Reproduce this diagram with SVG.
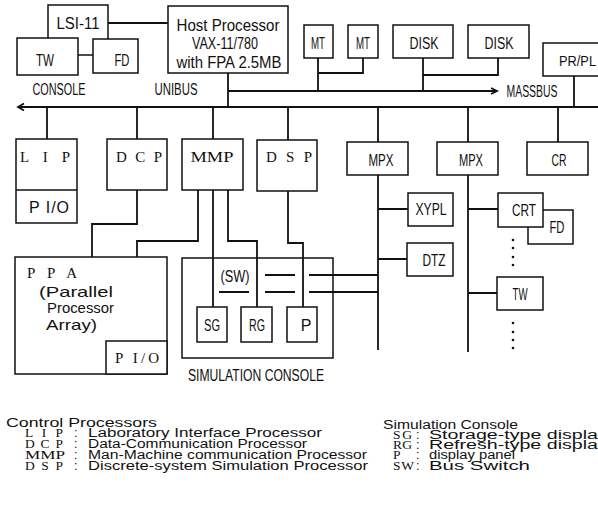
<svg xmlns="http://www.w3.org/2000/svg" width="598" height="505" viewBox="0 0 598 505">
<style>
.b{fill:#fff;stroke:#111;stroke-width:1.5}
.c{fill:none;stroke:#111;stroke-width:1.8;stroke-linejoin:miter}
.bus{fill:none;stroke:#111;stroke-width:2.2}
.t{font-family:"Liberation Sans",Arial,sans-serif;font-size:16px;fill:#111;text-anchor:middle}
.s{font-family:"Liberation Serif","Times New Roman",serif;font-size:15px;fill:#111;text-anchor:middle}
.l{font-family:"Liberation Sans",Arial,sans-serif;font-size:12.5px;fill:#111}
.lb{font-family:"Liberation Sans",Arial,sans-serif;font-size:15px;fill:#111}
.ls{font-family:"Liberation Serif","Times New Roman",serif;font-size:13.5px;fill:#111}
.dot{fill:#111}
</style>
<rect width="598" height="505" fill="#fff"/>
<g id="connectors">
  <path class="c" d="M108 23H168"/>
  <path class="bus" d="M18 107H598"/>
  <path class="c" d="M24 103.5L18 107L24 110.5"/>
  <path class="c" d="M228 73V107"/>
  <path class="c" d="M228 91H497"/>
  <path class="c" d="M491 88L497 91L491 94"/>
  <path class="c" d="M318 58V91M318 73H363V58"/>
  <path class="c" d="M423 58V91M423 75H498V58"/>
  <path class="c" d="M574 76V107"/>
  <path class="c" d="M47 107V139M137 107V139M213 107V139M288 107V140M378 107V142M468 107V142M558 107V142"/>
  <path class="c" d="M137 190V224H92V257"/>
  <path class="c" d="M198 190V241H137V257"/>
  <path class="c" d="M213 190V307"/>
  <path class="c" d="M228 190V241H257V307"/>
  <path class="c" d="M288 190V243H303V307"/>
  <path class="c" d="M378 175V350"/>
  <path class="c" d="M378 209H408M378 259H407"/>
  <path class="c" d="M468 175V352"/>
  <path class="c" d="M468 209H498M468 293H497"/>
  <path class="c" d="M219 292H249M265 275H295M265 292H295M309 275H378M309 292H378"/>
</g>
<g id="lsi11"><rect class="b" x="48" y="5" width="60" height="50"/><text class="t" x="78" y="29" textLength="43" lengthAdjust="spacingAndGlyphs">LSI-11</text></g>
<g id="tw1"><rect class="b" x="17" y="38" width="61" height="37"/><text class="t" x="45" y="66" textLength="18" lengthAdjust="spacingAndGlyphs">TW</text></g>
<g id="fd1"><rect class="b" x="93" y="39" width="45" height="34"/><text class="t" x="122" y="66" textLength="15" lengthAdjust="spacingAndGlyphs">FD</text></g>
<g id="host"><rect class="b" x="168" y="6" width="120" height="67"/>
  <text class="t" x="228" y="31" textLength="103" lengthAdjust="spacingAndGlyphs">Host Processor</text>
  <text class="t" x="225" y="49" textLength="66" lengthAdjust="spacingAndGlyphs">VAX-11/780</text>
  <text class="t" x="229" y="68" textLength="105" lengthAdjust="spacingAndGlyphs">with FPA 2.5MB</text></g>
<g id="labels">
  <text class="t" x="59" y="95" textLength="53" lengthAdjust="spacingAndGlyphs">CONSOLE</text>
  <text class="t" x="176" y="95" textLength="43" lengthAdjust="spacingAndGlyphs">UNIBUS</text>
  <text class="t" x="532" y="97" textLength="51" lengthAdjust="spacingAndGlyphs">MASSBUS</text>
  <text class="t" x="256" y="381" textLength="136" lengthAdjust="spacingAndGlyphs">SIMULATION CONSOLE</text>
</g>
<g id="mt1"><rect class="b" x="304" y="25" width="29" height="33"/><text class="t" x="318" y="49" textLength="14" lengthAdjust="spacingAndGlyphs">MT</text></g>
<g id="mt2"><rect class="b" x="348" y="25" width="30" height="33"/><text class="t" x="363" y="49" textLength="14" lengthAdjust="spacingAndGlyphs">MT</text></g>
<g id="disk1"><rect class="b" x="393" y="25" width="60" height="33"/><text class="t" x="424" y="49" textLength="29" lengthAdjust="spacingAndGlyphs">DISK</text></g>
<g id="disk2"><rect class="b" x="468" y="25" width="61" height="33"/><text class="t" x="499" y="49" textLength="29" lengthAdjust="spacingAndGlyphs">DISK</text></g>
<g id="prpl"><rect class="b" x="543" y="43" width="60" height="33"/><text class="lb" x="559" y="66" textLength="37" lengthAdjust="spacingAndGlyphs">PR/PL</text></g>
<g id="lip"><rect class="b" x="16" y="139" width="61" height="84"/><path class="b" d="M16 190H77"/>
  <text class="s" x="45" y="162" textLength="50">L I P</text>
  <text class="t" x="49" y="213" textLength="40">P I/O</text></g>
<g id="dcp"><rect class="b" x="107" y="139" width="60" height="51"/><text class="s" x="139" y="162" textLength="46">D C P</text></g>
<g id="mmp"><rect class="b" x="182" y="139" width="61" height="51"/><text class="s" x="212" y="162" textLength="43" lengthAdjust="spacingAndGlyphs">MMP</text></g>
<g id="dsp"><rect class="b" x="257" y="140" width="60" height="51"/><text class="s" x="289" y="162" textLength="46">D S P</text></g>
<g id="mpx1"><rect class="b" x="347" y="142" width="61" height="33"/><text class="t" x="381" y="166" textLength="25" lengthAdjust="spacingAndGlyphs">MPX</text></g>
<g id="mpx2"><rect class="b" x="437" y="142" width="61" height="33"/><text class="t" x="471" y="166" textLength="24" lengthAdjust="spacingAndGlyphs">MPX</text></g>
<g id="cr"><rect class="b" x="527" y="142" width="61" height="33"/><text class="t" x="559" y="166" textLength="15" lengthAdjust="spacingAndGlyphs">CR</text></g>
<g id="xypl"><rect class="b" x="408" y="193" width="45" height="33"/><text class="t" x="431" y="215" textLength="31" lengthAdjust="spacingAndGlyphs">XYPL</text></g>
<g id="dtz"><rect class="b" x="407" y="243" width="46" height="33"/><text class="t" x="434" y="266" textLength="23" lengthAdjust="spacingAndGlyphs">DTZ</text></g>
<g id="fd2"><rect class="b" x="528" y="210" width="45" height="34"/><text class="t" x="557" y="233" textLength="15" lengthAdjust="spacingAndGlyphs">FD</text></g>
<g id="crt"><rect class="b" x="498" y="193" width="45" height="34"/><text class="t" x="524" y="216" textLength="24" lengthAdjust="spacingAndGlyphs">CRT</text></g>
<g id="tw2"><rect class="b" x="497" y="277" width="46" height="33"/><text class="t" x="520" y="300" textLength="15" lengthAdjust="spacingAndGlyphs">TW</text></g>
<g id="dots">
  <circle class="dot" cx="513" cy="240" r="1.3"/><circle class="dot" cx="513" cy="248" r="1.3"/><circle class="dot" cx="513" cy="257" r="1.3"/><circle class="dot" cx="513" cy="265" r="1.3"/>
  <circle class="dot" cx="513" cy="323" r="1.3"/><circle class="dot" cx="513" cy="332" r="1.3"/><circle class="dot" cx="513" cy="340" r="1.3"/><circle class="dot" cx="513" cy="348" r="1.3"/>
</g>
<g id="ppa"><rect class="b" x="15" y="257" width="152" height="117"/><rect class="b" x="106" y="341" width="61" height="33"/>
  <text class="s" x="27" y="278" textLength="50" style="text-anchor:start">P P A</text>
  <text class="lb" x="39" y="297" textLength="74" lengthAdjust="spacingAndGlyphs">(Parallel</text>
  <text class="lb" x="47" y="313" textLength="67" lengthAdjust="spacingAndGlyphs">Processor</text>
  <text class="lb" x="46" y="330" textLength="51" lengthAdjust="spacingAndGlyphs">Array)</text>
  <text class="s" x="137" y="363" textLength="44">P I/O</text></g>
<g id="simconsole"><rect class="b" x="182" y="258" width="151" height="100" style="fill:none"/>
  <text class="t" x="235" y="282" textLength="29" lengthAdjust="spacingAndGlyphs">(SW)</text></g>
<g id="sg"><rect class="b" x="197" y="307" width="30" height="35"/><text class="t" x="212" y="331" textLength="16" lengthAdjust="spacingAndGlyphs">SG</text></g>
<g id="rg"><rect class="b" x="241" y="307" width="31" height="35"/><text class="t" x="257" y="331" textLength="16" lengthAdjust="spacingAndGlyphs">RG</text></g>
<g id="p"><rect class="b" x="287" y="307" width="30" height="35"/><text class="t" x="306" y="331">P</text></g>
<g id="legend-left">
  <text class="l" x="6" y="427" textLength="151" lengthAdjust="spacingAndGlyphs">Control Processors</text>
  <text class="ls" x="25" y="437" textLength="38">L I P</text><text class="l" x="74" y="437">:</text>
  <text class="l" x="88" y="437" textLength="234" lengthAdjust="spacingAndGlyphs">Laboratory Interface Processor</text>
  <text class="ls" x="25" y="448" textLength="38">D C P</text><text class="l" x="74" y="448">:</text>
  <text class="l" x="88" y="448" textLength="219" lengthAdjust="spacingAndGlyphs">Data-Communication Processor</text>
  <text class="ls" x="25" y="459" textLength="40" lengthAdjust="spacingAndGlyphs">MMP</text><text class="l" x="74" y="459">:</text>
  <text class="l" x="88" y="459" textLength="279" lengthAdjust="spacingAndGlyphs">Man-Machine communication Processor</text>
  <text class="ls" x="25" y="470" textLength="38">D S P</text><text class="l" x="74" y="470">:</text>
  <text class="l" x="88" y="470" textLength="280" lengthAdjust="spacingAndGlyphs">Discrete-system Simulation Processor</text>
</g>
<g id="legend-right">
  <text class="l" x="383" y="429" textLength="135" lengthAdjust="spacingAndGlyphs">Simulation Console</text>
  <text class="ls" x="393" y="439" textLength="19">S G</text><text class="l" x="416" y="439">:</text>
  <text class="l" x="429" y="439" textLength="169" lengthAdjust="spacingAndGlyphs">Storage-type displa</text>
  <text class="ls" x="393" y="449" textLength="19">R G</text><text class="l" x="416" y="449">:</text>
  <text class="l" x="429" y="449" textLength="169" lengthAdjust="spacingAndGlyphs">Refresh-type displa</text>
  <text class="ls" x="393" y="459">P</text><text class="l" x="416" y="459">:</text>
  <text class="l" x="429" y="459" textLength="86" lengthAdjust="spacingAndGlyphs">display panel</text>
  <text class="ls" x="393" y="470" textLength="21">S W</text><text class="l" x="416" y="470">:</text>
  <text class="l" x="429" y="470" textLength="101" lengthAdjust="spacingAndGlyphs">Bus Switch</text>
</g>
</svg>
